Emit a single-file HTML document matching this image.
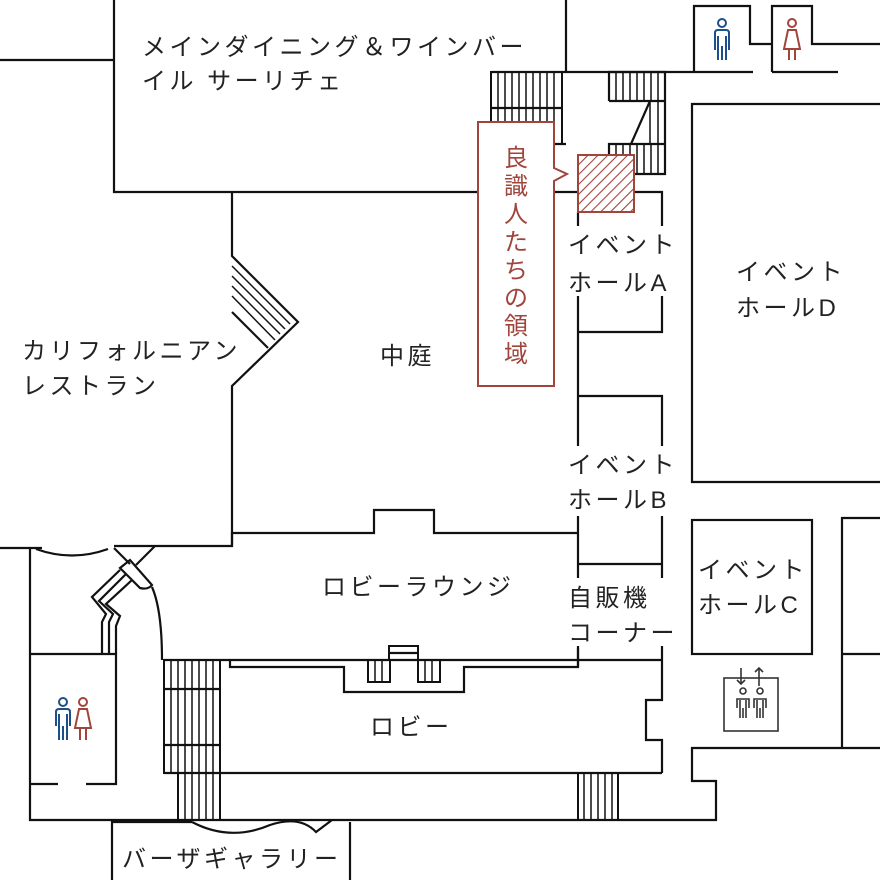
<!DOCTYPE html>
<html><head><meta charset="utf-8"><style>
html,body{margin:0;padding:0;background:#fff;}
svg{display:block;}
text{font-family:"Liberation Sans","Noto Sans CJK JP",sans-serif;font-size:24px;fill:#222;letter-spacing:3.5px;}
</style></head><body>
<svg width="880" height="880" viewBox="0 0 880 880" xmlns="http://www.w3.org/2000/svg">
<defs>
<pattern id="h" width="7" height="7" patternUnits="userSpaceOnUse" patternTransform="rotate(45)">
<rect width="7" height="7" fill="#fff"/><line x1="0" y1="0" x2="0" y2="7" stroke="#a0453c" stroke-width="2.2"/>
</pattern>
</defs>
<g fill="none" stroke="#111" stroke-width="2.2">
<polyline points="0,60 114,60"/>
<polyline points="114,0 114,192 478,192"/>
<polyline points="554,192 578,192"/>
<polyline points="634,192 662,192 662,332 578,332"/>
<line x1="566" y1="0" x2="566" y2="72"/>
<polyline points="491,72 753,72"/>
<polyline points="694,72 694,6 750,6 750,44 772,44"/>
<polyline points="772,72 772,6 812,6 812,44 880,44"/>
<line x1="772" y1="72" x2="838" y2="72"/>
<rect x="491" y="72" width="71" height="72" stroke-width="2"/>
<line x1="491" y1="108" x2="562" y2="108"/>
<line x1="491" y1="144" x2="566" y2="144"/>
<polyline points="609,101 609,72 665,72 665,174 609,174 609,144 665,144"/>
<line x1="609" y1="101" x2="665" y2="101"/>
<line x1="650" y1="101" x2="631" y2="144"/>
<polyline points="880,104 692,104 692,482 880,482"/>
<line x1="578" y1="212" x2="578" y2="667"/>
<polyline points="578,396 662,396 662,700 646,700 646,740 662,740 662,773"/>
<line x1="578" y1="564" x2="662" y2="564"/>
<polyline points="232,192 232,256 298,322 232,386 232,546 114,546"/>
<line x1="232" y1="312" x2="268" y2="348"/>
<polyline points="232,546 232,533 374,533 374,510 434,510 434,533 578,533"/>
<polyline points="0,548 42,548"/>
<path d="M36,549 Q72,562 108,549"/>
<polyline points="164,660 662,660"/>
<polyline points="230,660 230,667 344,667 344,692 464,692 464,667 578,667 578,648"/>
<rect x="389" y="646" width="29" height="14" stroke-width="2"/>
<line x1="389" y1="653" x2="418" y2="653"/>
<rect x="368" y="660" width="22" height="22" stroke-width="2"/>
<rect x="418" y="660" width="22" height="22" stroke-width="2"/>
<polyline points="164,773 662,773"/>
<rect x="164" y="660" width="56" height="113" stroke-width="2"/>
<line x1="164" y1="689" x2="220" y2="689"/>
<line x1="164" y1="745" x2="220" y2="745"/>
<rect x="178" y="773" width="42" height="47" stroke-width="2"/>
<rect x="578" y="773" width="40" height="47" stroke-width="2"/>
<polyline points="30,548 30,820 716,820 716,781 692,781 692,748 880,748"/>
<polyline points="842,748 842,518 880,518"/>
<line x1="842" y1="654" x2="880" y2="654"/>
<rect x="692" y="520" width="120" height="134"/>
<polyline points="112,880 112,822 192,822"/>
<line x1="350" y1="822" x2="350" y2="880"/>
<path d="M192,822 Q230,842 270,825 Q300,815 316,832 L332,820" />
<polyline points="30,654 116,654 116,784 86,784"/>
<line x1="30" y1="784" x2="58" y2="784"/>
<polyline points="102,654 102,622 106,614 92,597 120,570"/>
<polyline points="109,654 109,622 113,614 99,601 126,574"/>
<polyline points="116,654 116,626 120,616 106,604 132,580"/>
<line x1="114" y1="548" x2="130" y2="564"/>
<line x1="155" y1="546" x2="136" y2="565"/>
<path d="M120,568 L130,560 L152,585 Q148,590 140,588 Z"/>
<path d="M152,587 Q162,610 162,660"/>
</g>
<g stroke="#111" stroke-width="1.5">
<path d="M498,72V144M505,72V144M512,72V144M519,72V144M526,72V144M533,72V144M540,72V144M547,72V144M554,72V144"/>
<path d="M616,72V101M623,72V101M630,72V101M637,72V101M644,72V101M651,72V101M658,72V101"/>
<path d="M616,144V174M623,144V174M630,144V174M637,144V174M644,144V174M651,144V174M658,144V174M650,101V144M658,101V144"/>
<path d="M171,660V773M178,660V820M185,660V820M192,660V820M199,660V820M206,660V820M213,660V820"/>
<path d="M584,773V820M591,773V820M598,773V820M605,773V820M612,773V820"/>
<path d="M375,660V682M382,660V682M425,660V682M432,660V682"/>
<path d="M232,266L290,324M232,276L285,329M232,286L280,334M232,296L275,340"/>
</g>
<rect x="578" y="155" width="56" height="57" fill="url(#h)" stroke="#a0453c" stroke-width="2"/>
<path d="M478,122 H554 V168 L567,174 L554,181 V386 H478 Z" fill="#fff" stroke="#a0453c" stroke-width="2"/>
<g style="font-size:23px;letter-spacing:0" text-anchor="middle">
<text x="516" y="166" style="fill:#a0453c;letter-spacing:0">良</text>
<text x="516" y="194" style="fill:#a0453c;letter-spacing:0">識</text>
<text x="516" y="222" style="fill:#a0453c;letter-spacing:0">人</text>
<text x="516" y="250" style="fill:#a0453c;letter-spacing:0">た</text>
<text x="516" y="278" style="fill:#a0453c;letter-spacing:0">ち</text>
<text x="516" y="306" style="fill:#a0453c;letter-spacing:0">の</text>
<text x="516" y="334" style="fill:#a0453c;letter-spacing:0">領</text>
<text x="516" y="362" style="fill:#a0453c;letter-spacing:0">域</text>
</g>
<g fill="#fff">
<rect x="566" y="226" width="114" height="70"/>
<rect x="566" y="446" width="114" height="70"/>
<rect x="566" y="578" width="114" height="68"/>
</g>
<text x="142" y="55">メインダイニング＆ワインバー</text>
<text x="142" y="89">イル サーリチェ</text>
<text x="22" y="359">カリフォルニアン</text>
<text x="22" y="394">レストラン</text>
<text x="380" y="364">中庭</text>
<text x="568" y="253">イベント</text>
<text x="568" y="291">ホールA</text>
<text x="736" y="280">イベント</text>
<text x="736" y="316">ホールD</text>
<text x="568" y="473">イベント</text>
<text x="568" y="508">ホールB</text>
<text x="698" y="578">イベント</text>
<text x="698" y="613">ホールC</text>
<text x="568" y="606">自販機</text>
<text x="568" y="641">コーナー</text>
<text x="322" y="595">ロビーラウンジ</text>
<text x="370" y="735">ロビー</text>
<text x="122" y="867">バーザギャラリー</text>
<g fill="none" stroke-width="2">
<g stroke="#1d4f8c"><circle cx="722" cy="23" r="4"/><path d="M715,50V33Q715,30 718,30H726Q729,30 729,33V50M718,36V60M726,36V60M722,46V60"/></g>
<g stroke="#a0453c"><circle cx="792" cy="23" r="4"/><path d="M788,30H796L800,49H784Z M789,49V60M795,49V60"/></g>
<g stroke="#1d4f8c"><circle cx="63" cy="702" r="4"/><path d="M56,726V712Q56,709 59,709H67Q70,709 70,712V726M59,714V740M67,714V740M63,726V740"/></g>
<g stroke="#a0453c"><circle cx="83" cy="702" r="4"/><path d="M79,709H87L91,728H75Z M80,728V740M86,728V740"/></g>
</g>
<g fill="none" stroke="#333" stroke-width="1.6">
<rect x="724" y="678" width="54" height="53"/>
<path d="M741,668V684M737,680L741,684L745,680M759,686V668M755,672L759,668L763,672"/>
<circle cx="743" cy="691" r="3"/><path d="M737,708V699H749V708M740,700V718M746,700V718M743,708V718"/>
<circle cx="760" cy="691" r="3"/><path d="M754,708V699H766V708M757,700V718M763,700V718M760,708V718"/>
</g>
</svg>
</body></html>
